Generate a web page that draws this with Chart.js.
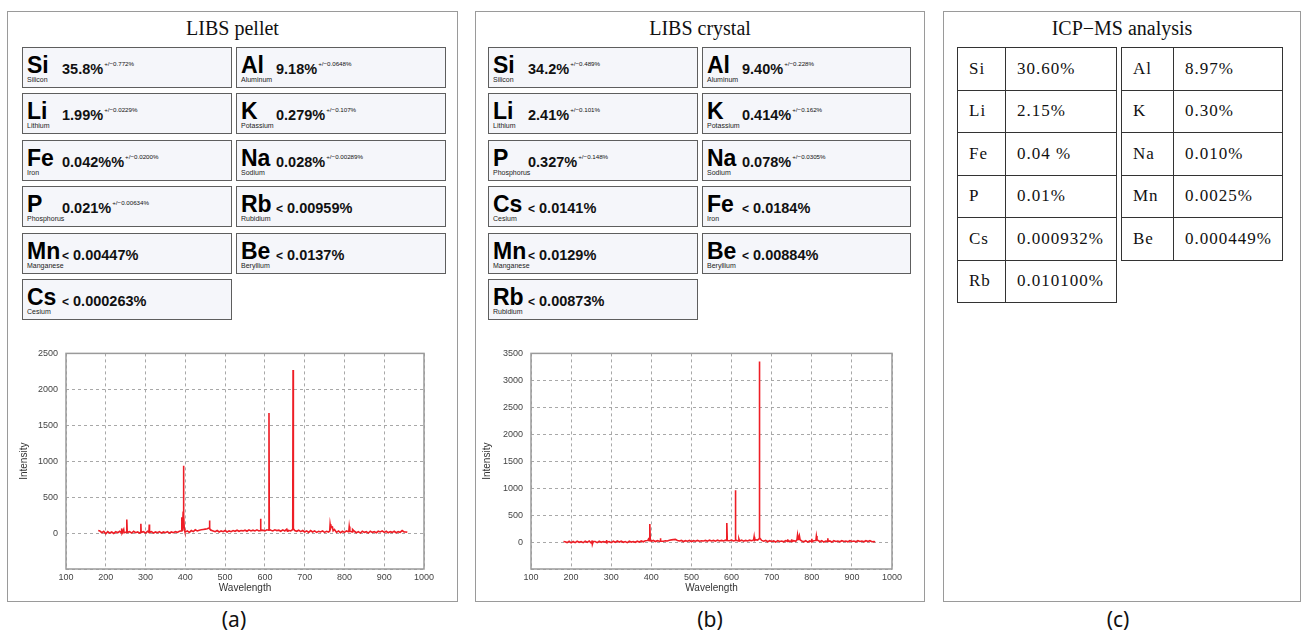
<!DOCTYPE html>
<html>
<head>
<meta charset="utf-8">
<script src="https://cdn.jsdelivr.net/npm/chart.js@4.4.0/dist/chart.umd.min.js"></script>
<style>
  body { margin: 0; width: 1301px; height: 635px; background: #fff; position: relative; overflow: hidden; font-family: "Liberation Sans", Arial, sans-serif; color: #111; }
  .panel { position: absolute; top: 11px; height: 591px; border: 1.5px solid #9a9a9a; box-sizing: border-box; }
  .title { position: absolute; top: 18px; text-align: center; font: 20px/20px "Liberation Serif", serif; color: #111; }
  .cell { position: absolute; height: 41px; background: #f5f6fa; border: 1.5px solid #5e5e5e; box-sizing: border-box; }
  .sym { position: absolute; left: 4px; top: 6px; font: bold 23px/23px "Liberation Sans", Arial, sans-serif; color: #000; }
  .name { position: absolute; left: 4px; top: 28px; font: 7px/7px "Liberation Sans", Arial, sans-serif; color: #222; }
  .val { position: absolute; left: 39px; top: 14px; font: bold 14.5px/14.5px "Liberation Sans", Arial, sans-serif; white-space: nowrap; color: #111; }
  .val .lt { font-size: 12px; }
  .val .sup { position: relative; top: -8px; margin-left: 1px; font: 6.2px "Liberation Sans", Arial, sans-serif; }
  .chartBox { position: absolute; }
  .icp { position: absolute; border-collapse: collapse; font: 17px "Liberation Serif", serif; letter-spacing: 1px; color: #111; }
  .icp td { border: 1.5px solid #333; height: 41.5px; padding: 0 0 0 11px; white-space: nowrap; }
  .sub { position: absolute; top: 606px; width: 60px; text-align: center; font: 21px/26px "Noto Sans", sans-serif; color: #111; }
</style>
</head>
<body>

<div class="panel" style="left:7px;width:451px"></div>
<div class="panel" style="left:475px;width:450px"></div>
<div class="panel" style="left:943px;width:358px"></div>

<div class="title" style="left:7px;width:451px">LIBS pellet</div>
<div class="title" style="left:475px;width:450px">LIBS crystal</div>
<div class="title" style="left:943px;width:358px">ICP−MS analysis</div>

<div id="pelletCells"></div>
<div id="crystalCells"></div>

<div class="chartBox" style="left:10px;top:340px;width:440px;height:258px"><canvas id="pelletChart"></canvas></div>
<div class="chartBox" style="left:478px;top:340px;width:440px;height:258px"><canvas id="crystalChart"></canvas></div>

<table class="icp" id="icpLeft" style="left:957px;top:47px;width:160px"></table>
<table class="icp" id="icpRight" style="left:1121px;top:47px;width:162px"></table>

<div class="sub" style="left:204px">(a)</div>
<div class="sub" style="left:680px">(b)</div>
<div class="sub" style="left:1088px">(c)</div>

<script>
// element boxes: symbol, name, value, uncertainty
const pelletCells = [
  ["Si", "Silicon", "35.8%", "+/−0.772%"],
  ["Al", "Aluminum", "9.18%", "+/−0.0648%"],
  ["Li", "Lithium", "1.99%", "+/−0.0229%"],
  ["K", "Potassium", "0.279%", "+/−0.107%"],
  ["Fe", "Iron", "0.042%%", "+/−0.0200%"],
  ["Na", "Sodium", "0.028%", "+/−0.00289%"],
  ["P", "Phosphorus", "0.021%", "+/−0.00634%"],
  ["Rb", "Rubidium", "< 0.00959%", ""],
  ["Mn", "Manganese", "< 0.00447%", ""],
  ["Be", "Beryllium", "< 0.0137%", ""],
  ["Cs", "Cesium", "< 0.000263%", ""]
];

const crystalCells = [
  ["Si", "Silicon", "34.2%", "+/−0.489%"],
  ["Al", "Aluminum", "9.40%", "+/−0.228%"],
  ["Li", "Lithium", "2.41%", "+/−0.101%"],
  ["K", "Potassium", "0.414%", "+/−0.162%"],
  ["P", "Phosphorus", "0.327%", "+/−0.148%"],
  ["Na", "Sodium", "0.078%", "+/−0.0305%"],
  ["Cs", "Cesium", "< 0.0141%", ""],
  ["Fe", "Iron", "< 0.0184%", ""],
  ["Mn", "Manganese", "< 0.0129%", ""],
  ["Be", "Beryllium", "< 0.00884%", ""],
  ["Rb", "Rubidium", "< 0.00873%", ""]
];

const icpLeft = [["Si", "30.60%"], ["Li", "2.15%"], ["Fe", "0.04 %"], ["P", "0.01%"], ["Cs", "0.000932%"], ["Rb", "0.010100%"]];
const icpRight = [["Al", "8.97%"], ["K", "0.30%"], ["Na", "0.010%"], ["Mn", "0.0025%"], ["Be", "0.000449%"]];

// spectrum, LIBS pellet
const pelletWavelength = [
  181, 185, 190, 195, 200, 205, 210, 215, 220, 225, 230,
  235, 239, 240, 241, 245, 246, 250, 251.5, 252.8, 254,
  260, 265, 270, 275, 280, 285, 287.5, 288.2, 289, 295,
  300, 305, 308.5, 309.3, 310, 315, 320, 325, 330, 335,
  340, 345, 350, 355, 360, 365, 370, 375, 380, 385,
  390, 391.2, 392, 393, 394.5, 395.4, 396.2, 397.3, 398.5, 400, 405,
  410, 415, 420, 425, 430, 435, 440, 445, 450, 455,
  459.8, 460.7, 461.6, 465, 470, 475, 480, 485, 490, 495,
  500, 505, 510, 515, 520, 525, 530, 535, 540, 545,
  550, 555, 560, 565, 570, 575, 580, 585, 588.3, 589.1,
  590, 595, 600, 605, 609.5, 610.3, 611.1, 615, 620, 625,
  630, 635, 640, 645, 650, 655, 656.5, 658, 665, 670,
  670.8, 671.6, 675, 680, 685, 690, 695, 700, 705, 710,
  715, 720, 725, 730, 735, 740, 745, 750, 755, 760,
  763, 764, 765.5, 767, 769.9, 771.5, 775, 780, 785, 790, 795,
  800, 805, 810, 811, 812, 813.5, 819.5, 820.5, 825, 830,
  835, 840, 845, 850, 855, 860, 865, 870, 875, 880,
  885, 890, 895, 900, 905, 910, 915, 920, 925, 930,
  935, 940, 945, 950, 955, 958
];
const pelletIntensity = [
  35, 30, 5, 25, -10, 20, 0, 15, -5, 20, 5,
  25, 5, 65, 0, 50, 5, 10, 15, 190, 10,
  20, 0, 25, 5, 15, 0, 10, 130, 10, 20,
  0, 25, 10, 120, 10, 20, 0, 15, 5, 20,
  0, 15, 5, 20, 0, 15, 5, 20, 10, 25,
  30, 220, 40, 60, 300, 935, 250, 60, 30, 15, 30,
  10, 35, 20, 45, 30, 40, 45, 50, 55, 60,
  70, 175, 60, 40, 30, 20, 35, 15, 30, 20,
  35, 15, 30, 20, 35, 25, 40, 25, 35, 30,
  40, 25, 45, 30, 40, 30, 45, 30, 35, 200,
  35, 40, 30, 45, 40, 1670, 50, 40, 30, 45,
  35, 40, 25, 45, 30, 55, 25, 40, 30, 50,
  2270, 60, 35, 25, 40, 20, 35, 15, 30, 10,
  35, 15, 30, 10, 25, 15, 30, 10, 25, 15,
  30, 125, 70, 95, 85, 30, 50, 10, 30, 5, 25,
  10, 30, 20, 25, 90, 25, 15, 50, 25, 5,
  20, 0, 25, 10, 20, 0, 25, 10, 20, 5,
  25, 15, 30, 10, 25, 5, 20, 10, 25, 5,
  20, 10, 35, 15, 15, 10
];

// spectrum, LIBS crystal
const crystalWavelength = [
  181, 185, 190, 195, 200, 205, 210, 215, 220, 225,
  230, 235, 240, 245, 250, 252, 253, 255, 260, 265,
  270, 275, 280, 285, 287.5, 288.2, 289, 295, 300, 305,
  310, 315, 320, 325, 330, 335, 340, 345, 350, 355,
  360, 365, 370, 375, 380, 385, 390, 392.5, 393.4, 394.5,
  395.8, 396.6, 397.4, 400, 405, 410, 415, 420, 421.7, 422.6,
  423.5, 430, 435, 440, 445, 450, 455, 460, 465, 470,
  475, 480, 485, 490, 495, 500, 505, 510, 515, 520,
  525, 530, 535, 540, 545, 550, 555, 560, 565, 570,
  575, 580, 585, 587, 587.8, 588.6, 589.4, 595, 600, 605,
  608.8, 609.6, 610.4, 615, 617.5, 618.3, 620, 625, 630, 635,
  640, 645, 650, 655, 656.3, 657.5, 660, 665, 668.5, 669.3,
  670.2, 675, 680, 685, 690, 695, 700, 705, 710, 715,
  720, 725, 730, 735, 739, 740, 741, 745, 749, 750,
  751, 755, 760, 763, 764.5, 766, 767.5, 769, 771, 775,
  780, 785, 790, 795, 799, 800, 801, 805, 809, 810.5,
  811.5, 813, 818, 820, 825, 830, 835, 839, 840, 841,
  845, 850, 855, 860, 865, 870, 875, 880, 885, 890,
  895, 900, 905, 910, 915, 920, 925, 930, 935, 940,
  945, 950, 955, 958
];
const crystalIntensity = [
  10, 5, -10, 15, -15, 10, -10, 15, -5, 10,
  -10, 15, -5, 20, -15, 30, -40, 10, 10, -10,
  15, -5, 10, 0, 5, 40, -5, 10, -10, 15,
  -5, 20, 0, 15, -5, 10, -10, 15, 0, 10,
  -5, 15, 0, 20, 5, 25, 30, 40, 80, 25,
  40, 335, 40, 15, 30, 10, 25, 15, 20, 70,
  20, 15, 25, 20, 35, 40, 45, 50, 30, 20,
  30, 10, 25, 15, 30, 10, 25, 15, 30, 15,
  25, 20, 30, 15, 35, 20, 30, 15, 35, 20,
  30, 20, 35, 30, 355, 350, 30, 25, 35, 20,
  30, 960, 40, 25, 20, 60, 20, 35, 15, 30,
  20, 35, 25, 40, 100, 30, 45, 35, 60, 3350,
  80, 30, 15, 30, 5, 25, 10, 20, 0, 25,
  10, 20, 5, 25, 15, 50, 10, 20, 15, 50,
  10, 25, 15, 40, 130, 50, 80, 120, 40, 20,
  5, 25, 0, 20, 10, 60, 5, 25, 30, 40,
  110, 40, 20, 5, 25, 0, 20, 15, 70, 10,
  20, 0, 25, 10, 20, 5, 25, 10, 20, 5,
  25, 10, 20, 5, 25, 10, 20, 5, 25, 10,
  25, 5, 10, 5
];

const xTicks = [100, 1000, 100];
const pelletYTicks = [-500, 2500, 500];
const crystalYTicks = [-500, 3500, 500];

function renderCells(targetId, list, lefts, widths) {
  const html = list.map(function(c, i) {
    const col = i % 2;
    const row = Math.floor(i / 2);
    let value = c[2];
    if (value.indexOf("< ") === 0) {
      value = `<span class="lt">&lt;</span> ${value.slice(2)}`;
    }
    const sup = c[3] ? `<span class="sup">${c[3]}</span>` : "";
    return `
      <div class="cell" style="left:${lefts[col]}px;top:${47 + Math.round(row * 46.4)}px;width:${widths[col]}px">
        <div class="sym">${c[0]}</div>
        <div class="name">${c[1]}</div>
        <div class="val">${value}${sup}</div>
      </div>`;
  }).join("");
  document.getElementById(targetId).innerHTML = html;
}

function renderIcp(targetId, rows, firstWidth) {
  document.getElementById(targetId).innerHTML = rows.map(function(r) {
    return `<tr><td style="width:${firstWidth}px">${r[0]}</td><td>${r[1]}</td></tr>`;
  }).join("");
}

const framePlugin = {
  id: "frame",
  beforeDatasetsDraw(chart) {
    const a = chart.chartArea;
    const ctx = chart.ctx;
    ctx.save();
    ctx.strokeStyle = "#9a9a9a";
    ctx.lineWidth = 1.5;
    ctx.strokeRect(a.left, a.top, a.right - a.left, a.bottom - a.top);
    ctx.restore();
  }
};

function makeSpectrum(canvasId, wl, inten, yTicks, yWidth, titlePad, padTop) {
  const points = wl.map(function(x, i) { return { x: x, y: inten[i] }; });
  return new Chart(document.getElementById(canvasId), {
    type: "line",
    data: {
      datasets: [{
        data: points,
        borderColor: "rgb(238,30,38)",
        borderWidth: 1.6,
        pointRadius: 0,
        tension: 0
      }]
    },
    options: {
      responsive: true,
      maintainAspectRatio: false,
      animation: false,
      devicePixelRatio: 1,
      layout: { padding: { left: 0, right: 26, top: padTop, bottom: 4 } },
      plugins: { legend: { display: false }, tooltip: { enabled: false } },
      scales: {
        x: {
          type: "linear",
          min: xTicks[0], max: xTicks[1],
          afterFit: function(scale) { scale.height = 25; },
          ticks: {
            stepSize: xTicks[2], autoSkip: false, maxRotation: 0, padding: 3, color: "#444", font: { family: "Liberation Sans", size: 9 },
            callback: function(v) { return String(v); }
          },
          grid: { color: "#a8a8a8", lineWidth: 1, drawTicks: false },
          border: { display: false, dash: [3, 3] },
          title: { display: true, text: "Wavelength", color: "#333", padding: 0, font: { family: "Liberation Sans", size: 10 } }
        },
        y: {
          min: yTicks[0], max: yTicks[1],
          afterFit: function(scale) { scale.width = yWidth; },
          ticks: {
            stepSize: yTicks[2], padding: 8, color: "#444", font: { family: "Liberation Sans", size: 9 },
            callback: function(v) { return v < 0 ? "" : String(v); }
          },
          grid: { color: "#a8a8a8", lineWidth: 1, drawTicks: false },
          border: { display: false, dash: [3, 3] },
          title: { display: true, text: "Intensity", color: "#333", padding: { top: titlePad, bottom: 0 }, font: { family: "Liberation Sans", size: 10 } }
        }
      }
    },
    plugins: [framePlugin]
  });
}

renderCells("pelletCells", pelletCells, [22, 236], [210, 210]);
renderCells("crystalCells", crystalCells, [488, 702], [210, 209]);
renderIcp("icpLeft", icpLeft, 36);
renderIcp("icpRight", icpRight, 40);
makeSpectrum("pelletChart", pelletWavelength, pelletIntensity, pelletYTicks, 56, 8, 13);
makeSpectrum("crystalChart", crystalWavelength, crystalIntensity, crystalYTicks, 53, 3, 12);
</script>
</body>
</html>
